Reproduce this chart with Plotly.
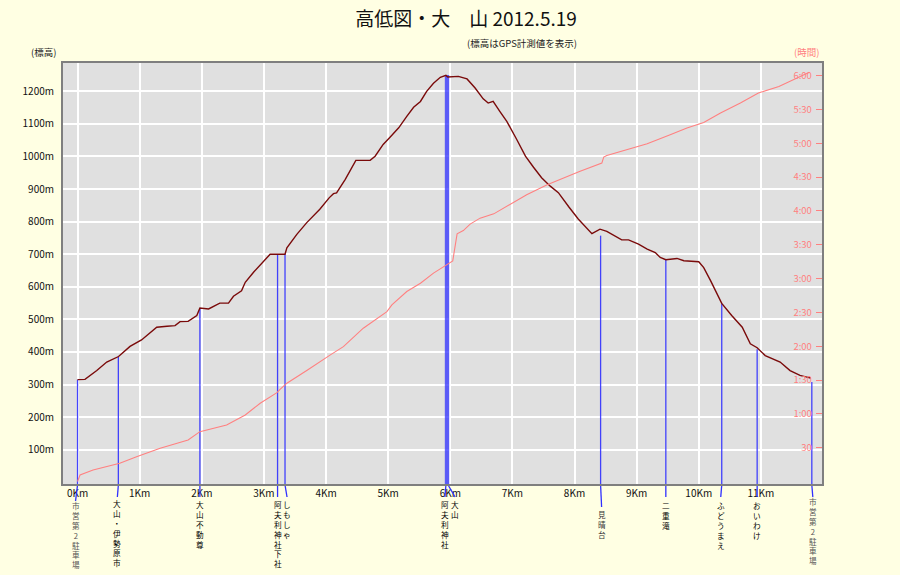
import plotly.graph_objects as go

# ---------------- data ----------------
title_text = "高低図・大　山 2012.5.19"
subtitle_text = "(標高はGPS計測値を表示)"
left_axis_title = "(標高)"
right_axis_title = "(時間)"

dist_km = [0.00, 0.12, 0.31, 0.47, 0.66, 0.845, 1.03, 1.275, 1.44, 1.57, 1.65, 1.78, 1.92, 1.97,
           2.11, 2.21, 2.29, 2.43, 2.51, 2.64, 2.70, 2.83, 2.94, 3.02, 3.10, 3.22, 3.34, 3.37,
           3.53, 3.69, 3.85, 3.90, 4.05, 4.12, 4.17, 4.31, 4.48, 4.71, 4.79, 4.92, 5.03, 5.17,
           5.30, 5.41, 5.52, 5.62, 5.73, 5.84, 5.93, 5.96, 6.13, 6.27, 6.40, 6.53, 6.61, 6.69,
           6.80, 6.91, 7.07, 7.21, 7.34, 7.47, 7.61, 7.74, 7.91, 8.06, 8.28, 8.41, 8.52, 8.76,
           8.87, 9.03, 9.17, 9.30, 9.38, 9.47, 9.65, 9.76, 10.00, 10.08, 10.19, 10.29, 10.37,
           10.53, 10.70, 10.83, 10.94, 11.07, 11.31, 11.47, 11.63, 11.74, 11.80]
elev_m = [315, 316, 343, 369, 386, 417, 437, 476, 479, 481, 493, 494, 512, 535,
          532, 542, 550, 550, 571, 588, 614, 644, 668, 685, 700, 700, 700, 720,
          761, 797, 828, 838, 873, 886, 888, 930, 988, 988, 1001, 1037, 1059, 1088,
          1123, 1151, 1169, 1200, 1225, 1243, 1249, 1244, 1246, 1238, 1210, 1177, 1164, 1169,
          1138, 1108, 1052, 1001, 967, 935, 909, 889, 845, 808, 763, 777, 770, 744,
          744, 731, 716, 705, 690, 683, 687, 680, 677, 659, 619, 578, 549,
          512, 476, 425, 413, 389, 369, 343, 328, 323, 320]

time_km = [0.00, 0.04, 0.25, 0.68, 0.95, 1.33, 1.78, 1.97, 2.40, 2.70, 2.94, 3.21, 3.26, 3.37,
           3.69, 3.90, 4.07, 4.28, 4.60, 4.98, 5.06, 5.30, 5.52, 5.73, 5.95, 6.04, 6.11, 6.21,
           6.32, 6.48, 6.70, 6.96, 7.23, 7.56, 7.82, 8.08, 8.44, 8.47, 8.52, 8.79, 9.17, 9.54,
           9.81, 10.08, 10.35, 10.67, 10.96, 11.29, 11.47, 11.69, 11.78]
time_min = [0, 5.8, 10.2, 16.1, 22, 29.5, 36.8, 44.2, 50.1, 59, 69.4, 78.8, 81.8, 87.2,
            98.4, 106.3, 112.3, 119.6, 136, 150.7, 156.7, 168.5, 175.9, 184.8, 192.2, 195.7, 219.7, 222.6,
            228.3, 233.6, 237.4, 245.4, 254.3, 263.2, 269.1, 275, 282.4, 287.8, 289.2, 293.6, 299.6, 307.5,
            313.5, 318.5, 326.8, 335.7, 344.6, 350.4, 354.9, 360.8, 363]

wp_km = [0.00, 0.657, 1.97, 3.22, 3.34, 5.93, 5.965, 8.42, 9.47, 10.37, 10.94, 11.82]
wp_top = [315, 385, 535, 700, 700, 1250, 1250, 757, 683, 549, 408, 308]
wp_names = ["市営第2駐車場", "大山・伊勢原市", "大山不動尊", "阿夫利神社下社", "しもしゃ",
            "阿夫利神社", "大山", "見晴台", "二重滝", "ふどうまえ", "おいわけ", "市営第2駐車場"]

xtick_vals = list(range(0, 12))
xtick_text = [f"{k}Km" for k in xtick_vals]
ytick_vals = list(range(100, 1300, 100))
ytick_text = [f"{v}m" for v in ytick_vals]
y2tick_vals = list(range(30, 390, 30))
y2tick_text = ["30", "1:00", "1:30", "2:00", "2:30", "3:00", "3:30",
               "4:00", "4:30", "5:00", "5:30", "6:00"]

# ---------------- style ----------------
W, H = 900, 575
ML, MR, MT, MB = 62, 77, 62, 90
PW, PH = W - ML - MR, H - MT - MB
XR = [-0.25, 12.0]
YR = [-8.3, 1290]
Y2R = [-3.1, 372.1]
px_per_km = PW / (XR[1] - XR[0])

# label x-offset (px), label top (px below axis), line extension below axis (px)
lab_dx = [-2, -1, 0, 0, 2, -1, 7, 1, 0, -1, 0, 1]
lab_top = [14, 12, 13, 13, 13, 13, 13, 23, 14, 14, 14, 10]
ext_len = [16, 12, 12, 12, 12, 12, 12, 22, 12, 12, 12, 12]
lab_color = ["#555555", "#000000", "#000000", "#000000", "#000000", "#000000",
             "#000000", "#333333", "#000000", "#000000", "#000000", "#555555"]
FONT = "Noto Sans CJK JP"
PINK = "#ff8080"
BLUE = "#3030ff"

fig = go.Figure()

# waypoint lines inside the plot
for i, (k, top) in enumerate(zip(wp_km, wp_top)):
    fig.add_trace(go.Scatter(x=[k, k], y=[YR[0], top], mode="lines",
                             line=dict(color=BLUE, width=1.3 if i not in (5, 6) else 2.2),
                             opacity=0.9 if i not in (5, 6) else 0.75,
                             hoverinfo="skip", showlegend=False))

fig.add_trace(go.Scatter(x=time_km, y=time_min, yaxis="y2", mode="lines",
                         line=dict(color=PINK, width=1.1), showlegend=False, name="時間"))
fig.add_trace(go.Scatter(x=dist_km, y=elev_m, mode="lines",
                         line=dict(color="#7a0a0a", width=1.4), showlegend=False, name="標高"))

shapes = []
annotations = []
for i, (k, name) in enumerate(zip(wp_km, wp_names)):
    shapes.append(dict(type="line", xref="x", yref="paper",
                       x0=k, y0=0, x1=k + lab_dx[i] / px_per_km, y1=-ext_len[i] / PH,
                       line=dict(color=BLUE, width=1.3)))
    annotations.append(dict(x=k, y=0, xref="x", yref="paper", text="<br>".join(name),
                            showarrow=False, xanchor="center", yanchor="top", align="center",
                            xshift=lab_dx[i], yshift=-lab_top[i], borderpad=0,
                            font=dict(family=FONT, size=7.6, color=lab_color[i])))

# plot border
shapes.append(dict(type="rect", xref="paper", yref="paper", x0=0, y0=0, x1=1, y1=1,
                   line=dict(color="#7f7f7f", width=2), layer="above"))

annotations += [
    dict(xref="paper", yref="paper", x=(522 - ML) / PW, y=(H - MB - 43) / PH,
         xanchor="center", yanchor="middle",
         text=subtitle_text, showarrow=False, font=dict(family=FONT, size=9.5, color="#222222")),
    dict(xref="paper", yref="paper", x=(43 - ML) / PW, y=(H - MB - 52) / PH,
         xanchor="center", yanchor="middle",
         text=left_axis_title, showarrow=False, font=dict(family=FONT, size=9.5, color="#222222")),
    dict(xref="paper", yref="paper", x=(806 - ML) / PW, y=(H - MB - 52) / PH,
         xanchor="center", yanchor="middle",
         text=right_axis_title, showarrow=False, font=dict(family=FONT, size=9.5, color=PINK)),
]

fig.update_layout(
    width=W, height=H,
    margin=dict(l=ML, r=MR, t=MT, b=MB),
    paper_bgcolor="#ffffe3",
    plot_bgcolor="#e0e0e0",
    title=dict(text=title_text, xref="container", yref="container",
               x=466 / W, y=1 - 19 / H, xanchor="center", yanchor="middle",
               font=dict(family=FONT, size=19, color="#111111")),
    xaxis=dict(range=XR, tickvals=xtick_vals, ticktext=xtick_text, showgrid=True,
               gridcolor="#ffffff", gridwidth=1.5, zeroline=False, showline=False, ticks="",
               ticklabelstandoff=1,
               tickfont=dict(family=FONT, size=10, color="#111111")),
    yaxis=dict(range=YR, tickvals=ytick_vals, ticktext=ytick_text, showgrid=True,
               gridcolor="#ffffff", gridwidth=1.5, zeroline=False, showline=False, ticks="",
               ticklabelstandoff=7,
               tickfont=dict(family=FONT, size=10, color="#111111")),
    yaxis2=dict(range=Y2R, overlaying="y", side="right", tickvals=y2tick_vals,
                ticktext=y2tick_text, showgrid=False, zeroline=False, showline=False,
                ticks="inside", ticklen=7, tickcolor=PINK, tickwidth=1,
                ticklabelposition="inside", ticklabelstandoff=3,
                tickfont=dict(family=FONT, size=9.5, color=PINK)),
    shapes=shapes,
    annotations=annotations,
)

fig.write_html("out.html", config={"displayModeBar": False},
               post_script="document.body.style.margin='0';document.body.style.background='#ffffe3';")
